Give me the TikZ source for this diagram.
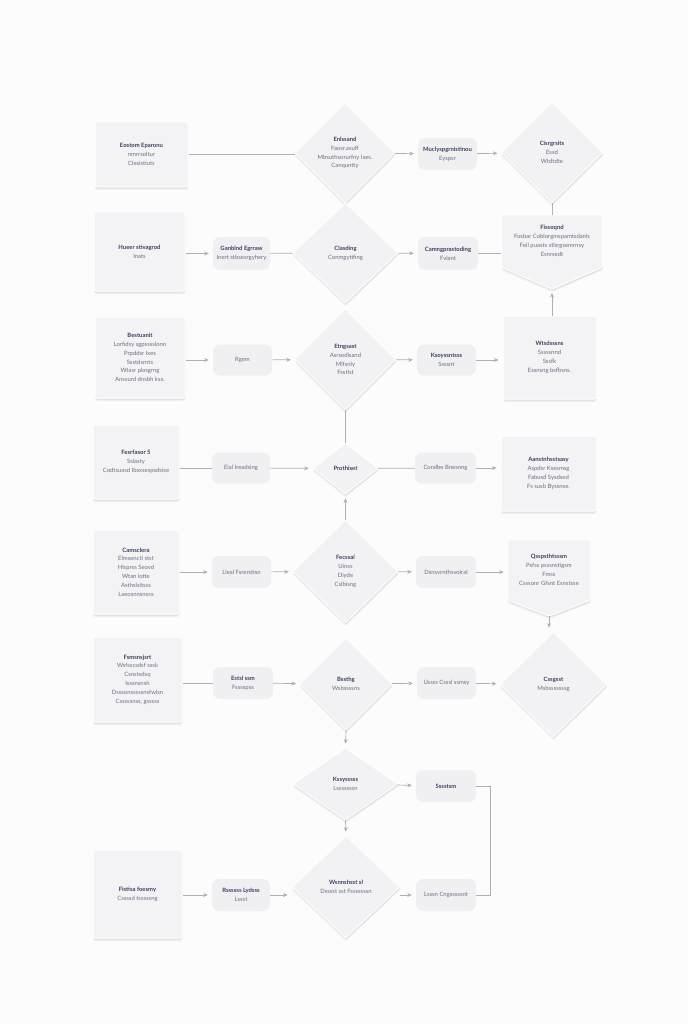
\documentclass[tikz,border=0pt]{standalone}
\usepackage{fontspec}
\setmainfont{Lato}
\usetikzlibrary{shapes.geometric,arrows.meta,shadows}
\definecolor{pagebg}{HTML}{FCFCFD}
\definecolor{cardfill}{HTML}{F3F3F5}
\definecolor{pillfill}{HTML}{F0F0F3}
\definecolor{diafill}{HTML}{F2F2F4}
\definecolor{linec}{HTML}{ADAFBA}
\definecolor{headtxt}{HTML}{3A4060}
\definecolor{bodytxt}{HTML}{6A6E82}
\pgfdeclarelayer{bg}
\pgfsetlayers{bg,main}
\newcommand\hd[1]{{\bfseries\color{headtxt}#1}}
\tikzset{
  every node/.style={font=\fontsize{5.9}{8.8}\selectfont, text=bodytxt, align=center},
  softshadow/.style={drop shadow={shadow xshift=0pt, shadow yshift=-3pt, opacity=0.05, fill=black},
                     drop shadow={shadow xshift=0.5pt, shadow yshift=-1.5pt, opacity=0.07, fill=black}},
  card/.style={rectangle, fill=cardfill, draw=white, line width=1pt, rounded corners=2pt, inner sep=0pt, softshadow},
  pill/.style={rectangle, fill=pillfill, rounded corners=7pt, inner sep=0pt, minimum width=59pt, minimum height=32pt},
  dia/.style={diamond, fill=diafill, draw=white, line width=0.8pt, inner sep=0pt, softshadow},
  txtbox/.style={rectangle, inner sep=0pt},
  shield/.style={fill=cardfill, draw=white, line width=1pt, rounded corners=1.5pt, softshadow},
  conn/.style={draw=linec, line width=0.7pt},
  arr/.style={conn, -{Stealth[length=4.5pt,width=4pt]}, shorten >=4pt},
}
\begin{document}
\begin{tikzpicture}[x=1pt,y=-1pt]
\useasboundingbox (0,0) rectangle (688,1024);
\begin{pgfonlayer}{bg}
\fill[pagebg] (0,0) rectangle (688,1024);
\end{pgfonlayer}

% ---------- left column cards ----------
\node[card, minimum width=93pt, minimum height=65pt] (a1) at (141.5,154.5) {\hd{Eostom Eparonu}\\nmrrsoltur\\Clesistiuts};
\node[card, minimum width=91pt, minimum height=79pt] (a2) at (139.5,251.5) {\hd{Hueer stivagrod}\\Inats};
\node[card, minimum width=90pt, minimum height=81pt] (a3) at (140,357.5) {\hd{Bestuanit}\\Lorfidsy sgpsssslonn\\Prpddsr Ixes\\Ssstdsrnts\\Wtasr plasgrng\\Anssurd dnsbh ksx.};
\node[card, minimum width=86pt, minimum height=74pt] (a4) at (136,462) {\hd{Fesrfasor 5}\\Sslasty\\Codtsuasd Ibsxsespsdsise};
\node[card, minimum width=86pt, minimum height=84pt] (a5) at (136,572) {\hd{Camsclera}\\Elmsenctl stst\\Hlsprss Seovd\\Wtan lotte\\Asthslsitsss\\Laeosnnsnsro};
\node[card, minimum width=89pt, minimum height=85pt] (a6) at (137.5,679.5) {\hd{Fsmsnsjsrt}\\Wsfsscsdsf sssk\\Csnstsdsq\\Isssnsnsh\\Dsssonsssssnsfwlsn\\Csssssnss, gsssss};
\node[card, minimum width=89pt, minimum height=88pt] (a7) at (137.5,894) {\hd{Fistisa foesmy}\\Cssssd tsssssng};

% ---------- pills ----------
\node[pill, minimum width=59pt] (r1) at (447.5,154) {\hd{Muclyspgrnistinou}\\Eyspsr};
\node[pill, minimum width=57pt, minimum height=33pt] (r2) at (241.5,253.5) {\hd{Ganblnd Egrraw}\\Inert stbsesrgyhery};
\node[pill, minimum width=60pt, minimum height=33pt] (r3) at (448,253.5) {\hd{Camngprastoding}\\Fvlant};
\node[pill, minimum height=31pt] (r4) at (242.5,360) {Rgem};
\node[pill, minimum height=31pt] (r5) at (446.5,360) {\hd{Ksoyssntsss}\\Ssssnt};
\node[pill, minimum width=58pt, minimum height=31pt] (r6) at (241,468) {Eial Ireadsing};
\node[pill, minimum width=61pt, minimum height=31pt] (r7) at (445.5,468) {Coralbe Bnesnng};
\node[pill] (r8) at (241.5,572) {Lleal Fsrerstisn};
\node[pill, minimum width=60pt] (r9) at (446,572) {Dsnsvrnthsvoiral};
\node[pill, minimum width=60pt] (r10) at (243,683) {\hd{Estsl ssm}\\Fsssspss};
\node[pill] (r11) at (446.5,683) {Ussss Csssl ssmsy};
\node[pill, minimum width=60pt] (r12) at (446,786) {\hd{Sssstsm}};
\node[pill, minimum width=60pt] (r13) at (446,895) {Lsssn Cngsssssnt};
\node[pill, minimum width=58pt] (r14) at (241,895) {\hd{Rssssss Lydsss}\\Lssst};

% ---------- diamonds ----------
\node[dia, minimum width=100pt, minimum height=100pt] (d1) at (345,153) {\hd{Enlssand}\\Faosr.asuff\\Mbsuthsorurfny Ixes.\\Canquntty};
\node[dia, minimum width=102pt, minimum height=101pt] (d2) at (552,152.5) {\hd{Cisrgrsits}\\Essd\\Wtdtdte};
\node[dia, minimum width=105pt, minimum height=100pt] (d3) at (345.5,253) {\hd{Clasding}\\Conmgytifing};
\node[dia, minimum width=101pt, minimum height=101pt] (d4) at (345.5,359.5) {\hd{Etngsast}\\Asrsedlsand\\Mlfsnly\\Fsstlst};
\node[dia, minimum width=65pt, minimum height=51pt] (d5) at (345.5,468.5) {\hd{Prothiset}};
\node[dia, minimum width=105pt, minimum height=103pt] (d6) at (345.5,571.5) {\hd{Fecssal}\\Uinss\\Diyde\\Cslbisng};
\node[dia, minimum width=107pt, minimum height=105pt] (d7) at (553.5,684.5) {\hd{Cssgsst}\\Msbsssssssg};
\node[dia, minimum width=92pt, minimum height=92pt] (d8) at (346,684) {\hd{Bssthg}\\Wsbssssns};
\node[dia, minimum width=105pt, minimum height=72pt] (d9) at (345.5,784) {\hd{Kssysssss}\\Lsssssssn};
\node[dia, minimum width=108pt, minimum height=102pt] (d10) at (346,887) {\hd{Wsnnshsst sl}\\Dsssst sst Fsssssssn};

% ---------- right cards ----------
\node[card, minimum width=93pt, minimum height=83pt] (w) at (549.5,357.5) {\hd{Wtsdsssns}\\Sssssnnd\\Sssfk\\Essnsng bsfbsns.};
\node[card, minimum width=95pt, minimum height=75pt] (b4) at (548.5,473.5) {\hd{Aanstnhsstsasy}\\Aspdsr Ksesmsg\\Fabusd Sysdsed\\Fs susb Byssnse.};

% ---------- shield shapes ----------
\node[txtbox, minimum width=101pt, minimum height=52pt] (p1) at (552,241) {\hd{Fissoqnd}\\Fosbar Coblorgmspamtsdanls\\Feil puasts stlsrgsemrnsy\\Esnrsedt};
\coordinate (p1tip) at (552,289);
\node[txtbox, minimum width=82pt, minimum height=60pt] (p2) at (549,570) {\hd{Qsspsthtsssm}\\Psfss psssnstigsm\\Fmss\\Csssonr Gfsnt Esnstsse};
\coordinate (p2tip) at (549,616);
\begin{pgfonlayer}{bg}
\path[shield] (p1.north west) -- (p1.north east) -- (p1.south east) -- (p1tip) -- (p1.south west) -- cycle;
\path[shield] (p2.north west) -- (p2.north east) -- (p2.south east) -- (p2tip) -- (p2.south west) -- cycle;
\end{pgfonlayer}

% ---------- connectors ----------
% row 1
\draw[conn] (a1.east) -- (a1.east -| d1.west);
\draw[arr] (d1) -- (r1);
\draw[arr] (r1) -- (d2);
% row 2
\draw[arr] (a2.east |- r2.west) -- (r2.west);
\draw[conn] (r2) -- (d3);
\draw[arr] (d3) -- (r3);
\draw[conn] (r3.east) -- (r3.east -| p1.west);
\draw[conn] (d2.south) -- (p1.north);
\draw[arr] (p1tip |- w.north) -- (p1tip);
% row 3
\draw[arr] (a3.east |- r4.west) -- (r4.west);
\draw[arr] (r4) -- (d4);
\draw[arr] (d4) -- (r5);
\draw[arr] (r5.east) -- (r5.east -| w.west);
% row 4
\draw[conn] (a4.east |- r6.west) -- (r6.west);
\draw[arr] (r6) -- (d5);
\draw[conn] (d5) -- (r7);
\draw[arr] (r7.east) -- (r7.east -| b4.west);
\draw[conn] (d4.south) -- (d5.north);
\draw[arr] (d6.north) -- (d5.south);
% row 5
\draw[arr] (a5.east |- r8.west) -- (r8.west);
\draw[arr] (r8) -- (d6);
\draw[arr] (d6) -- (r9);
\draw[arr] (r9.east) -- (r9.east -| p2.west);
\draw[arr] (p2tip) -- (p2tip |- d7.north);
% row 6
\draw[conn] (a6.east |- r10.west) -- (r10.west);
\draw[arr] (r10) -- (d8);
\draw[arr] (d8) -- (r11);
\draw[arr] (r11) -- (d7);
\draw[arr] (d8.south) -- (d9.north);
% row 7
\draw[arr] (d9) -- (r12);
\draw[arr] (d9.south) -- (d10.north);
\draw[conn] (r12.east) -- ++(14,0) |- (r13.east);
% row 8
\draw[arr] (a7.east |- r14.west) -- (r14.west);
\draw[arr] (r14.east) -- (r14.east -| d10.west);
\draw[arr] (r13.west -| d10.east) -- (r13.west);
\end{tikzpicture}
\end{document}
